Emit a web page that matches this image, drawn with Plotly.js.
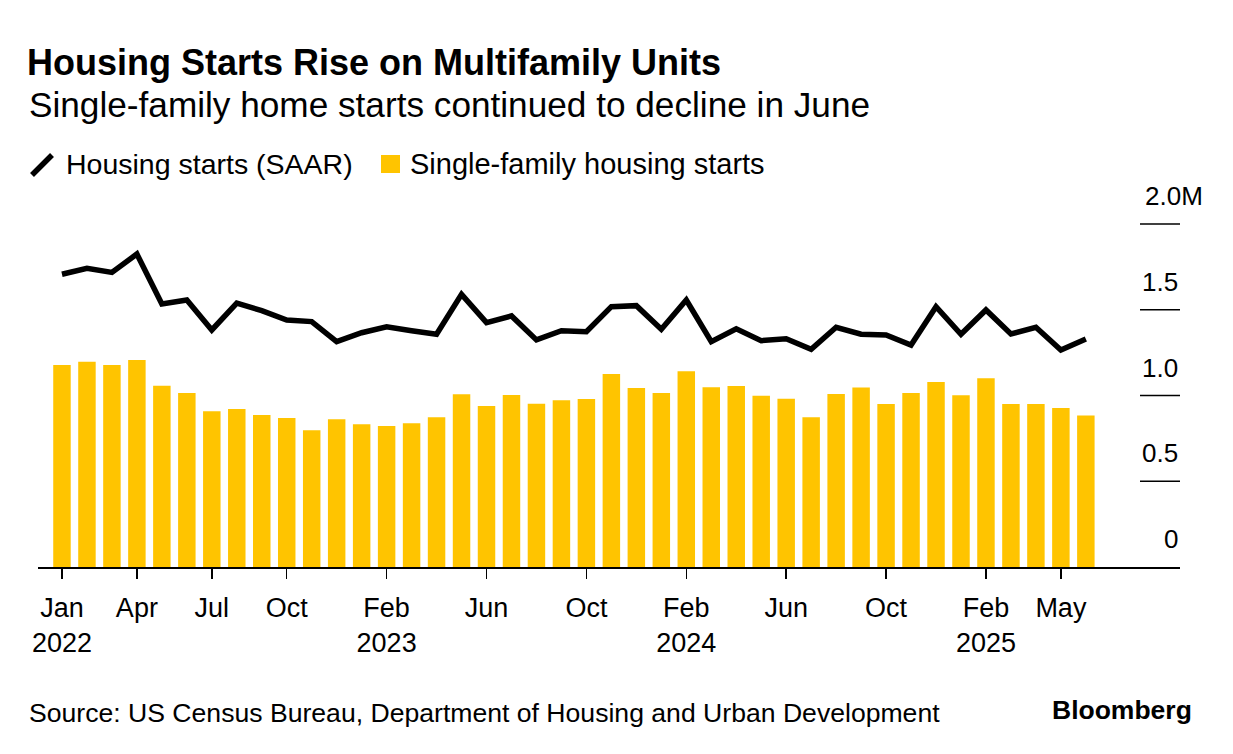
<!DOCTYPE html>
<html>
<head>
<meta charset="utf-8">
<script src="https://cdn.plot.ly/plotly-3.0.1.min.js"></script>
<style>
  html, body { margin: 0; padding: 0; background: #ffffff; }
  #chart { width: 1233px; height: 754px; }
</style>
</head>
<body>
<div id="chart"></div>
<script>
// Months, Jan 2022 .. Jun 2025
const months = [
  "2022-01","2022-02","2022-03","2022-04","2022-05","2022-06","2022-07","2022-08","2022-09","2022-10","2022-11","2022-12",
  "2023-01","2023-02","2023-03","2023-04","2023-05","2023-06","2023-07","2023-08","2023-09","2023-10","2023-11","2023-12",
  "2024-01","2024-02","2024-03","2024-04","2024-05","2024-06","2024-07","2024-08","2024-09","2024-10","2024-11","2024-12",
  "2025-01","2025-02","2025-03","2025-04","2025-05","2025-06"
];

// Housing starts (SAAR), millions
const housingStarts = [
  1.707, 1.742, 1.718, 1.825, 1.534, 1.557, 1.382, 1.538, 1.495, 1.440, 1.431, 1.314,
  1.366, 1.400, 1.378, 1.357, 1.590, 1.425, 1.464, 1.324, 1.378, 1.372, 1.518, 1.524,
  1.386, 1.557, 1.314, 1.389, 1.320, 1.331, 1.269, 1.398, 1.357, 1.353, 1.294, 1.518,
  1.357, 1.499, 1.359, 1.398, 1.265, 1.329
];

// Single-family housing starts, millions
const singleFamily = [
  1.178, 1.197, 1.178, 1.207, 1.057, 1.015, 0.908, 0.921, 0.886, 0.869, 0.797, 0.861,
  0.832, 0.822, 0.838, 0.873, 1.007, 0.939, 1.003, 0.952, 0.972, 0.980, 1.125, 1.044,
  1.015, 1.141, 1.048, 1.055, 0.999, 0.981, 0.873, 1.009, 1.046, 0.950, 1.015, 1.079,
  1.001, 1.100, 0.950, 0.950, 0.927, 0.884
];

// X tick positions and labels
const xTickVals = ["2022-01","2022-04","2022-07","2022-10","2023-02","2023-06","2023-10","2024-02","2024-06","2024-10","2025-02","2025-05"];
const xTickText = ["Jan<br>2022","Apr","Jul","Oct","Feb<br>2023","Jun","Oct","Feb<br>2024","Jun","Oct","Feb<br>2025","May"];

// Y tick values and labels
const yTickVals = [0, 0.5, 1.0, 1.5, 2.0];
const yTickText = ["0", "0.5", "1.0", "1.5", "2.0M"];

const FONT = "'Liberation Sans', Arial, sans-serif";
const YELLOW = "#FFC400";

const traces = [
  {
    type: "bar",
    x: months,
    y: singleFamily,
    name: "Single-family housing starts",
    marker: { color: YELLOW, line: { width: 0 } },
    showlegend: false,
    hoverinfo: "x+y"
  },
  {
    type: "scatter",
    mode: "lines",
    x: months,
    y: housingStarts,
    name: "Housing starts (SAAR)",
    line: { color: "#000000", width: 5.5, shape: "linear" },
    showlegend: false,
    hoverinfo: "x+y"
  }
];

// plot area: x from 38px to 1180px, y from 190px to 567px
const L = 38, R = 1180, T = 190, B = 567;
const px2x = p => (p - L) / (R - L);
const py2y = p => (B - p) / (B - T);

const shapes = [];
const annotations = [];

// short gridlines at the right
yTickVals.forEach((v, i) => {
  if (v > 0) {
    shapes.push({
      type: "line", xref: "paper", yref: "y",
      x0: px2x(1140), x1: 1, y0: v, y1: v,
      line: { color: "#000000", width: 1.5 }
    });
  }
  const isLast = yTickText[i].endsWith("M");
  annotations.push({
    xref: "paper", yref: "y", x: 1, y: v,
    xanchor: "right", yanchor: "middle",
    xshift: isLast ? 25 : 0, yshift: 28,
    text: yTickText[i], showarrow: false,
    font: { family: FONT, size: 26, color: "#000000" }
  });
});

// custom legend
shapes.push({
  type: "line", xref: "paper", yref: "paper",
  x0: px2x(32), y0: py2y(175), x1: px2x(52), y1: py2y(155),
  line: { color: "#000000", width: 5.5 }
});
shapes.push({
  type: "rect", xref: "paper", yref: "paper",
  x0: px2x(381), x1: px2x(400), y0: py2y(173), y1: py2y(155),
  fillcolor: YELLOW, line: { width: 0 }
});
annotations.push({
  xref: "paper", yref: "paper", x: px2x(64), y: py2y(164),
  xanchor: "left", yanchor: "middle", showarrow: false,
  text: "Housing starts (SAAR)",
  font: { family: FONT, size: 28.5, color: "#000000" }
});
annotations.push({
  xref: "paper", yref: "paper", x: px2x(408), y: py2y(164),
  xanchor: "left", yanchor: "middle", showarrow: false,
  text: "Single-family housing starts",
  font: { family: FONT, size: 29, color: "#000000" }
});

// subtitle
annotations.push({
  xref: "paper", yref: "paper", x: px2x(27), y: py2y(104),
  xanchor: "left", yanchor: "middle", showarrow: false,
  text: "Single-family home starts continued to decline in June",
  font: { family: FONT, size: 35.2, color: "#000000" }
});

// source
annotations.push({
  xref: "paper", yref: "paper", x: px2x(27), y: py2y(713),
  xanchor: "left", yanchor: "middle", showarrow: false,
  text: "Source: US Census Bureau, Department of Housing and Urban Development",
  font: { family: FONT, size: 26.6, color: "#000000" }
});

// Bloomberg
annotations.push({
  xref: "paper", yref: "paper", x: px2x(1194), y: py2y(710),
  xanchor: "right", yanchor: "middle", showarrow: false,
  text: "<b>Bloomberg</b>",
  font: { family: FONT, size: 26.5, color: "#000000" }
});

const layout = {
  width: 1233,
  height: 754,
  paper_bgcolor: "#ffffff",
  plot_bgcolor: "#ffffff",
  margin: { l: L, r: 1233 - R, t: T, b: 754 - B, pad: 0 },
  title: {
    text: "<b>Housing Starts Rise on Multifamily Units</b>",
    x: 27 / 1233, xref: "container", xanchor: "left",
    y: 1 - 62 / 754, yref: "container", yanchor: "middle",
    font: { family: FONT, size: 36, color: "#000000" }
  },
  bargap: 0.3,
  showlegend: false,
  xaxis: {
    type: "category",
    range: [-0.96, 44.77],
    showline: true, linecolor: "#000000", linewidth: 1.5,
    showgrid: false, zeroline: false,
    ticks: "outside", ticklen: 10, tickwidth: 1.5, tickcolor: "#000000",
    tickmode: "array", tickvals: xTickVals, ticktext: xTickText,
    tickfont: { family: FONT, size: 27, color: "#000000" },
    ticklabelstandoff: 6,
    fixedrange: true
  },
  yaxis: {
    range: [0, (B - T) / 171.5],
    showgrid: false, zeroline: false, showline: false,
    showticklabels: false, ticks: "",
    fixedrange: true
  },
  shapes: shapes,
  annotations: annotations,
  font: { family: FONT, color: "#000000" }
};

Plotly.newPlot("chart", traces, layout, { displayModeBar: false, staticPlot: true });
</script>
</body>
</html>
